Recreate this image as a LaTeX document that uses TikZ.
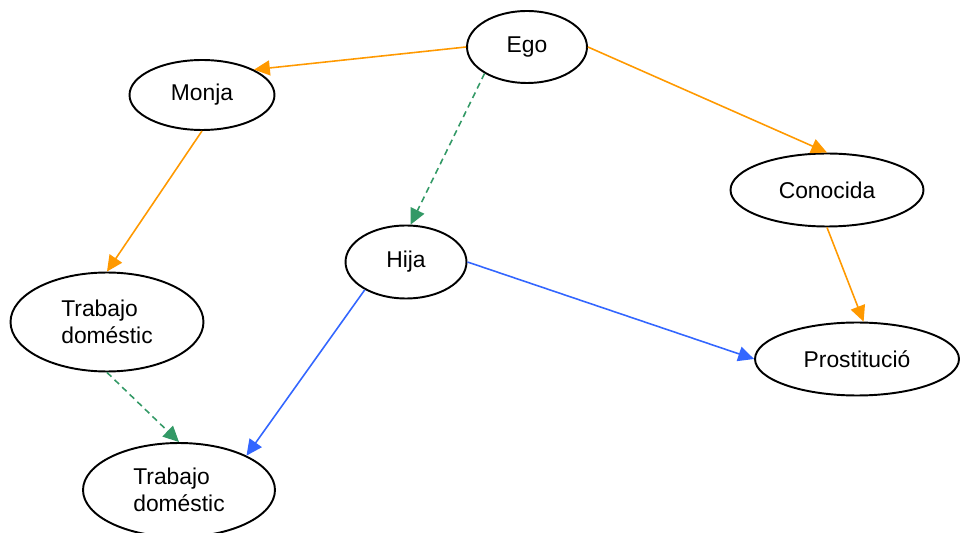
\documentclass[tikz,border=0pt]{standalone}
\usepackage{fontspec}
\setmainfont{Liberation Sans}
\usepackage{xcolor}
\usetikzlibrary{arrows.meta, shapes.geometric}

\definecolor{rolorange}{HTML}{FF9900}
\definecolor{rolgreen}{HTML}{339966}
\definecolor{rolblue}{HTML}{3366FF}

\tikzset{
    concept/.style={draw, ellipse, line width=1.1pt, inner sep=0pt, align=left,
        font=\fontsize{13}{15.5}\selectfont},
    link/.style={line width=0.9pt, -{Triangle[length=9pt, width=8.5pt]}},
    linkdash/.style={link, dash pattern=on 3.5pt off 2.5pt}
}

\begin{document}
\begin{tikzpicture}[x=0.02cm, y=-0.02cm]
    \useasboundingbox (0, 0) rectangle (960, 533);
    \node[concept, minimum width=2.4cm, minimum height=1.44cm] (ego) at (527, 47) {Ego};
    \node[concept, minimum width=2.9cm, minimum height=1.4cm] (monja) at (202, 95) {Monja};
    \node[concept, minimum width=3.86cm, minimum height=1.46cm] (conocida) at (827, 190) {Conocida};
    \node[concept, minimum width=2.42cm, minimum height=1.46cm] (hija) at (406, 262) {Hija};
    \node[concept, minimum width=3.86cm, minimum height=1.98cm] (trab1) at (107, 322) {Trabajo\\dom\'estic};
    \node[concept, minimum width=4.08cm, minimum height=1.46cm] (prost) at (857, 359) {Prostituci\'o};
    \node[concept, minimum width=3.84cm, minimum height=1.88cm] (trab2) at (179, 490) {Trabajo\\dom\'estic};
    \draw
    (ego.west) edge[link, rolorange] (monja.26)
    (ego.east) edge[link, rolorange] (conocida.north)
    (ego.212) edge[linkdash, rolgreen] (hija.83)
    (monja.south) edge[link, rolorange] (trab1.north)
    (conocida.south) edge[link, rolorange] (prost.80)
    (hija.east) edge[link, rolblue] (prost.west)
    (hija.214) edge[link, rolblue] (trab2.27)
    (trab1.south) edge[linkdash, rolgreen] (trab2.north);
\end{tikzpicture}
\end{document}
